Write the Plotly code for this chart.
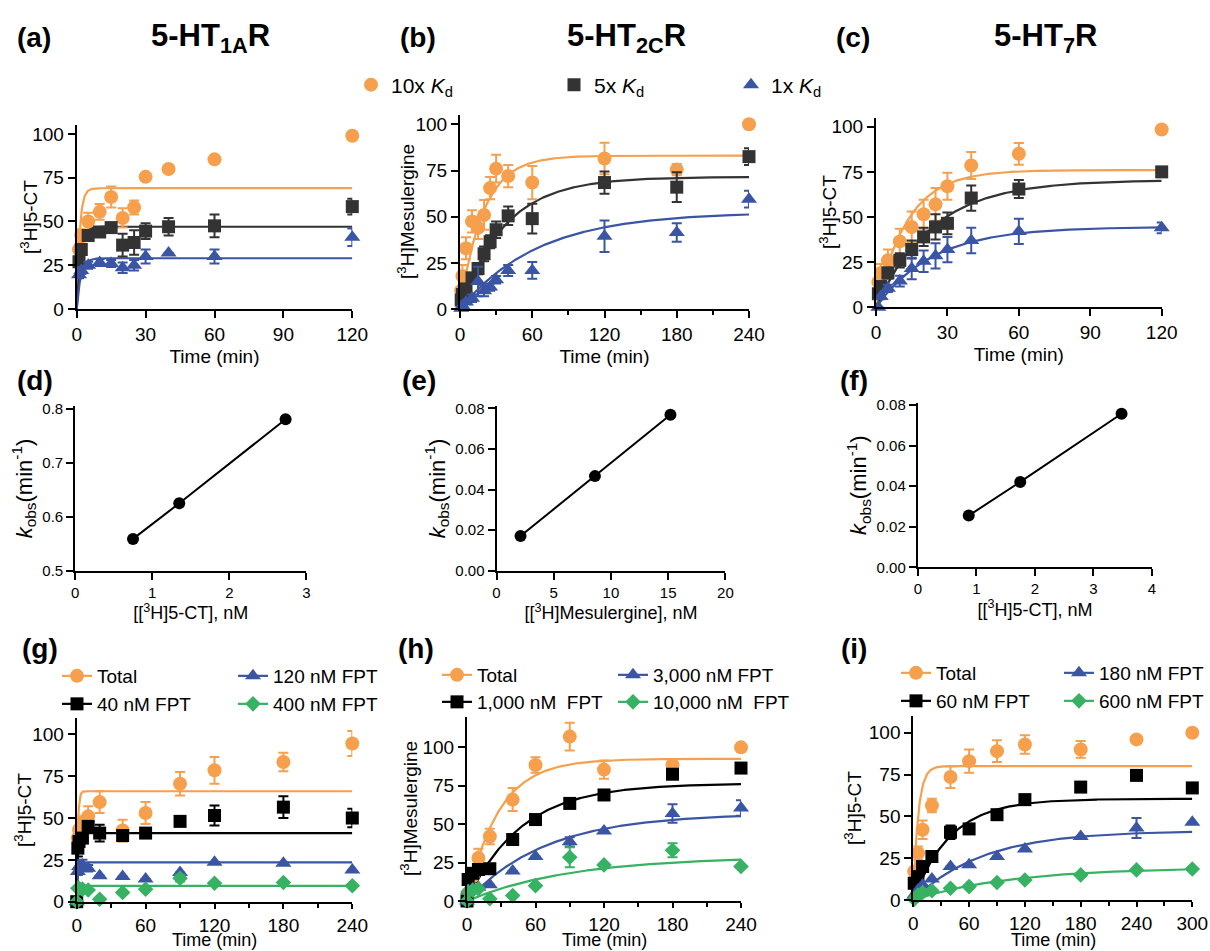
import numpy as np
import plotly.graph_objects as go

W, H = 1210, 951
ORANGE = '#F6A04D'
DARK = '#333333'
BLACK = '#000000'
BLUE = '#3A55A4'
GREEN = '#36B262'
FONT = 'Liberation Sans, Arial, sans-serif'

# ---------------- data ----------------
# (a) 5-HT1AR association, [3H]5-CT
TA = [1, 2, 5, 10, 15, 20, 25, 30, 40, 60, 120]
A_10x = [34, 42, 50, 55.5, 64, 52, 58, 75.5, 80, 85.5, 99]
A_10x_err = [4, 3.5, 5, 4.5, 6, 5.5, 4, 0, 0, 0, 0]
A_5x = [27, 34, 42, 44, 46.5, 36.5, 38, 44.5, 47, 47.5, 58.5]
A_5x_err = [2, 2, 2, 2, 2, 6.5, 7, 4.5, 5, 6.5, 4.5]
A_1x = [19.5, 22, 25, 26.5, 26, 23.5, 25, 30, 32, 30, 41]
A_1x_err = [2, 2, 2, 2, 2, 3, 3, 4, 0, 4, 5]
A_plateau = [69, 47, 29]
A_k = [0.78, 0.625, 0.56]

# (b) 5-HT2CR association, [3H]Mesulergine
TB = [1, 2, 5, 10, 15, 20, 25, 30, 40, 60, 120, 180, 240]
B_10x = [10, 18, 33, 47.5, 44, 51, 65.5, 76, 72, 68.5, 81.5, 75.5, 100]
B_10x_err = [0, 6, 6, 6, 6, 8, 6, 7.5, 6, 9, 8.5, 3, 0]
B_5x = [5, 8, 11, 17, 22, 30, 36.5, 43, 50.5, 49, 68.5, 66, 82.5]
B_5x_err = [0, 0, 0, 2, 3, 4, 3.5, 4.5, 5, 8, 6, 8, 4.5]
B_1x = [0.5, 2, 4, 6, 15, 10, 12, 16, 21, 21, 39.5, 41.5, 59.5]
B_1x_err = [0, 0, 0, 2, 8, 3, 2, 2, 3, 4.5, 8.5, 5, 4.5]
B_plateau = [83, 71.5, 52.5]
B_k = [0.052, 0.027, 0.0155]

# (c) 5-HT7R association, [3H]5-CT
TC = [1, 2, 5, 10, 15, 20, 25, 30, 40, 60, 120]
C_10x = [14, 19, 26, 36.5, 44.5, 51.5, 57, 67, 78.5, 85, 98.5]
C_10x_err = [0, 5, 6, 7, 8.5, 8, 9, 7.5, 7.5, 6, 0]
C_5x = [7.5, 11.5, 19, 26, 32, 39, 44.5, 46.5, 60.5, 65.5, 75]
C_5x_err = [0, 0, 3, 4, 5, 5, 7, 6, 7, 5, 0]
C_1x = [0, 6, 10.5, 14.5, 21.5, 25.5, 28.5, 32, 37, 42, 44]
C_1x_err = [0, 0, 2, 3, 6, 6, 7, 7, 7, 7, 3]
C_plateau = [76, 70.5, 44.5]
C_k = [0.0757, 0.042, 0.042]

# (d)-(f) kobs vs radioligand concentration
D_conc = [0.75, 1.35, 2.73]
D_kobs = [0.559, 0.625, 0.781]
E_conc = [2.1, 8.6, 15.2]
E_kobs = [0.0171, 0.0466, 0.0768]
F_conc = [0.87, 1.75, 3.48]
F_kobs = [0.0255, 0.0421, 0.0757]

# (g) 5-HT1AR with FPT
TG = [0, 1, 2, 5, 10, 20, 40, 60, 90, 120, 180, 240]
G_total = [0, 38, 43, 47, 51, 59.5, 42.5, 53, 70.5, 78.5, 83.5, 94.5]
G_total_err = [0, 5, 4, 4, 6, 6.5, 6.5, 6.5, 7, 8, 5.5, 7.5]
G_40 = [0, 32, 36, 38, 45, 41, 39.5, 41, 48, 51.5, 56.5, 50]
G_40_err = [0, 5, 2, 2, 3, 5, 2, 2, 2, 6, 6.5, 5.5]
G_120 = [0, 18, 21, 22, 20, 15.5, 15, 13.5, 17.5, 23.5, 23, 19]
G_120_err = [0, 2, 3, 3, 2, 0, 0, 0, 0, 0, 0, 0]
G_400 = [0, 8, 8, 7.5, 7, 1.5, 5.5, 7.5, 14, 11, 11.5, 9.5]
G_400_err = [0, 0, 0, 0, 0, 0, 0, 0, 2, 0, 0, 0]
G_plateau = [66, 41, 23.5, 9.5]
G_k = [1.0, 1.2, 1.5, 1.5]

# (h) 5-HT2CR with FPT
TH = [0, 1, 5, 10, 20, 40, 60, 90, 120, 180, 240]
H_total = [0, 5, 16, 28, 42, 66, 88.5, 107, 85.5, 88.5, 100]
H_total_err = [0, 0, 5, 6, 5, 7.5, 5, 9, 6, 0, 0]
H_1000 = [0, 14, 18, 20.5, 21, 40, 53, 63.5, 69, 82.5, 86.5]
H_1000_err = [0, 0, 0, 0, 0, 0, 0, 0, 0, 0, 0]
H_3000 = [0, 7, 8, 9, 10.5, 19.5, 29, 38.5, 45.5, 57, 60.5]
H_3000_err = [0, 0, 0, 0, 0, 0, 0, 3, 0, 6, 5]
H_10000 = [0, 6, 7, 8, 1.5, 3.5, 10, 28.5, 23.5, 33, 22.5]
H_10000_err = [0, 0, 0, 0, 0, 0, 0, 6.5, 0, 4.5, 0]
H_plateau = [92.5, 76.5, 57, 29]
H_k = [0.036, 0.021, 0.0145, 0.011]

# (i) 5-HT7R with FPT
TI = [1, 5, 10, 20, 40, 60, 90, 120, 180, 240, 300]
I_total = [17, 28, 42, 56.5, 73.5, 83, 89, 93, 90, 96, 100]
I_total_err = [0, 4, 5.5, 4, 6.5, 7, 6.5, 5.5, 5, 0, 0]
I_60 = [10, 14, 20, 26, 40.5, 42.5, 51, 60, 67.5, 74.5, 67]
I_60_err = [0, 0, 0, 0, 4, 0, 0, 0, 0, 0, 0]
I_180 = [3, 6, 9, 12.5, 20, 21, 26, 30.5, 38, 43, 46.5]
I_180_err = [0, 0, 0, 0, 0, 0, 0, 0, 0, 6, 0]
I_600 = [0.5, 3, 4.5, 5.5, 7, 8, 10.5, 12, 15, 18, 18.5]
I_600_err = [0] * 11
I_plateau = [80, 60.5, 41.5, 19.5]
I_k = [0.19, 0.025, 0.0135, 0.0095]

TOP_NAMES = ['10x <i>K</i><sub>d</sub>', '5x <i>K</i><sub>d</sub>', '1x <i>K</i><sub>d</sub>']
G_NAMES = ['Total', '40 nM FPT', '120 nM FPT', '400 nM FPT']
H_NAMES = ['Total', '1,000 nM\u00a0 FPT', '3,000 nM FPT', '10,000 nM\u00a0 FPT']
I_NAMES = ['Total', '60 nM FPT', '180 nM FPT', '600 nM FPT']

# ---------------- figure ----------------
fig = go.Figure()


def dx(x0, x1):
    return [x0 / W, x1 / W]


def dy(ytop, ybot):
    return [1 - ybot / H, 1 - ytop / H]


def fit_curve(p, k, tmax):
    t = np.linspace(0, tmax, 500)
    return t, p * (1 - np.exp(-k * t))


def add_kinetic(ax, T, ys, errs, plats, ks, tmax, colors, symbols, sizes,
                names=None, legends=None, legend_only=None):
    n = str(ax) if ax > 1 else ''
    xa, ya = 'x' + n, 'y' + n
    for p, k, c in zip(plats, ks, colors):
        t, f = fit_curve(p, k, tmax)
        fig.add_trace(go.Scatter(x=t, y=f, mode='lines', line=dict(color=c, width=2.2),
                                 xaxis=xa, yaxis=ya, showlegend=False, hoverinfo='skip',
                                 cliponaxis=False))
    for i, (y, e, c, s, sz) in enumerate(zip(ys, errs, colors, symbols, sizes)):
        show = names is not None and legends is not None and not legend_only
        fig.add_trace(go.Scatter(
            x=T, y=y, mode='markers', xaxis=xa, yaxis=ya,
            marker=dict(color=c, symbol=s, size=sz, line=dict(width=0)),
            error_y=dict(type='data', array=e, visible=True, color=c, thickness=2, width=5),
            name=names[i] if names else None,
            showlegend=bool(show), legend=legends[i] if show else None,
            cliponaxis=False))
    if legend_only:
        for i, (c, s, sz) in enumerate(zip(colors, symbols, sizes)):
            fig.add_trace(go.Scatter(
                x=[None], y=[None], mode='lines+markers', xaxis=xa, yaxis=ya,
                line=dict(color=c, width=2.2),
                marker=dict(color=c, symbol=s, size=sz),
                name=names[i], showlegend=True, legend=legends[i]))


TOPC = [ORANGE, DARK, BLUE]
TOPS = ['circle', 'square', 'triangle-up']
TOPZ = [14, 13, 14]

add_kinetic(1, TA, [A_10x, A_5x, A_1x], [A_10x_err, A_5x_err, A_1x_err], A_plateau, A_k, 120,
            TOPC, TOPS, TOPZ, names=TOP_NAMES, legends=['legend', 'legend2', 'legend3'])
add_kinetic(2, TB, [B_10x, B_5x, B_1x], [B_10x_err, B_5x_err, B_1x_err], B_plateau, B_k, 240,
            TOPC, TOPS, TOPZ)
add_kinetic(3, TC, [C_10x, C_5x, C_1x], [C_10x_err, C_5x_err, C_1x_err], C_plateau, C_k, 120,
            TOPC, TOPS, TOPZ)

for ax, xs, ys in [(4, D_conc, D_kobs), (5, E_conc, E_kobs), (6, F_conc, F_kobs)]:
    fig.add_trace(go.Scatter(x=xs, y=ys, mode='lines+markers', xaxis='x%d' % ax, yaxis='y%d' % ax,
                             line=dict(color='black', width=2),
                             marker=dict(color='black', size=12, symbol='circle'),
                             showlegend=False, cliponaxis=False))

BOTC = [ORANGE, BLACK, BLUE, GREEN]
BOTS = ['circle', 'square', 'triangle-up', 'diamond']
BOTZ = [14, 13, 14, 12]
add_kinetic(7, TG, [G_total, G_40, G_120, G_400], [G_total_err, G_40_err, G_120_err, G_400_err],
            G_plateau, G_k, 240, BOTC, BOTS, BOTZ, names=G_NAMES,
            legends=['legend4', 'legend5', 'legend6', 'legend7'], legend_only=True)
add_kinetic(8, TH, [H_total, H_1000, H_3000, H_10000], [H_total_err, H_1000_err, H_3000_err, H_10000_err],
            H_plateau, H_k, 240, BOTC, BOTS, BOTZ, names=H_NAMES,
            legends=['legend8', 'legend9', 'legend10', 'legend11'], legend_only=True)
add_kinetic(9, TI, [I_total, I_60, I_180, I_600], [I_total_err, I_60_err, I_180_err, I_600_err],
            I_plateau, I_k, 300, BOTC, BOTS, BOTZ, names=I_NAMES,
            legends=['legend12', 'legend13', 'legend14', 'legend15'], legend_only=True)

# ---------------- axes ----------------
BIG = 19
MID = 15


def base_axis(fs):
    return dict(showline=True, linecolor='black', linewidth=2, ticks='outside', ticklen=7,
                tickwidth=2, tickcolor='black', showgrid=False, zeroline=False,
                tickfont=dict(size=fs, color='black', family=FONT), fixedrange=True)


def xaxis(ax, dom, rng, tickvals, title, fs, minor=None, ticktext=None, standoff=6, tfs=None,
          ticklen=7):
    d = base_axis(fs)
    d.update(domain=dom, range=rng, tickvals=tickvals, anchor='y' + (str(ax) if ax > 1 else ''),
             ticklen=ticklen)
    if title:
        d['title'] = dict(text=title, font=dict(size=tfs or fs, color='black', family=FONT),
                          standoff=standoff)
    if ticktext:
        d['ticktext'] = ticktext
    if minor:
        d['minor'] = dict(tickvals=minor, ticks='outside', ticklen=4, tickwidth=2, tickcolor='black')
    fig.layout['xaxis' + (str(ax) if ax > 1 else '')] = d


def yaxis(ax, dom, rng, tickvals, title, fs, ticktext=None, standoff=4, tfs=None):
    d = base_axis(fs)
    d.update(domain=dom, range=rng, tickvals=tickvals, anchor='x' + (str(ax) if ax > 1 else ''))
    if title:
        d['title'] = dict(text=title, font=dict(size=tfs or fs, color='black', family=FONT),
                          standoff=standoff)
    if ticktext:
        d['ticktext'] = ticktext
    fig.layout['yaxis' + (str(ax) if ax > 1 else '')] = d


TIME = 'Time (min)'
CT = '[<sup>3</sup>H]5-CT'
MES = '[<sup>3</sup>H]Mesulergine'
KOBS = '<i>k</i><sub>obs</sub>(min<sup>-1</sup>)'
Y100 = [0, 25, 50, 75, 100]

# top row
xaxis(1, dx(76.7, 352.3), [0, 120], [0, 30, 60, 90, 120], TIME, BIG)
yaxis(1, dy(125.2, 309), [0, 105], Y100, None, BIG)
xaxis(2, dx(460, 749), [0, 240], [0, 60, 120, 180, 240], TIME, BIG, minor=[30, 90, 150, 210])
yaxis(2, dy(115, 309.3), [0, 105], Y100, None, BIG)
xaxis(3, dx(876, 1161.7), [0, 120], [0, 30, 60, 90, 120], TIME, BIG)
yaxis(3, dy(117.7, 307.3), [0, 105], Y100, None, BIG)

# middle row
xaxis(4, dx(75.2, 306.4), [0, 3], [0, 1, 2, 3], '[[<sup>3</sup>H]5-CT], nM', MID, standoff=4, tfs=18)
yaxis(4, dy(406.3, 570.7), [0.5, 0.805], [0.5, 0.6, 0.7, 0.8], KOBS, MID,
      ticktext=['0.5', '0.6', '0.7', '0.8'], tfs=22)
xaxis(5, dx(496.5, 725.4), [0, 20], [0, 5, 10, 15, 20], '[[<sup>3</sup>H]Mesulergine], nM', MID,
      standoff=4, tfs=18)
yaxis(5, dy(406.3, 570.7), [0, 0.081], [0, 0.02, 0.04, 0.06, 0.08], KOBS, MID,
      ticktext=['0.00', '0.02', '0.04', '0.06', '0.08'], tfs=22)
xaxis(6, dx(917.8, 1152), [0, 4], [0, 1, 2, 3, 4], '[[<sup>3</sup>H]5-CT], nM', MID, standoff=4, tfs=18)
yaxis(6, dy(403, 567.3), [0, 0.081], [0, 0.02, 0.04, 0.06, 0.08], KOBS, MID,
      ticktext=['0.00', '0.02', '0.04', '0.06', '0.08'], tfs=22)

# bottom row (x titles drawn as annotations below)
xaxis(7, dx(76.7, 352.3), [0, 240], [0, 60, 120, 180, 240], None, BIG, minor=[30, 90, 150, 210],
      ticklen=5)
yaxis(7, dy(717.6, 901.7), [0, 110], Y100, None, BIG)
xaxis(8, dx(467, 741), [0, 240], [0, 60, 120, 180, 240], None, BIG, minor=[30, 90, 150, 210],
      ticklen=5)
yaxis(8, dy(716.6, 901), [0, 120], Y100, None, BIG)
xaxis(9, dx(913.3, 1192.3), [0, 300], [0, 60, 120, 180, 240, 300], None, BIG,
      minor=[30, 90, 150, 210, 270], ticklen=5)
yaxis(9, dy(716, 900), [0, 110], Y100, None, BIG)

# ---------------- legends ----------------
LEG_FS = 19


def leg(mx, my, fs=LEG_FS):
    return dict(x=(mx - 20) / W, y=1 - my / H, xanchor='left', yanchor='middle',
                bgcolor='rgba(0,0,0,0)', borderwidth=0, orientation='v',
                font=dict(size=fs, family=FONT, color='black'), itemclick=False,
                itemdoubleclick=False, tracegroupgap=0)


fig.layout['legend'] = leg(371, 85, 21)
fig.layout['legend2'] = leg(574, 85, 21)
fig.layout['legend3'] = leg(751, 85, 21)
pos = {
    4: (77, 676), 5: (77, 704), 6: (253, 676), 7: (253, 704),
    8: (457, 675), 9: (457, 702), 10: (633, 675), 11: (633, 702),
    12: (916, 673), 13: (916, 701), 14: (1079, 673), 15: (1079, 701),
}
for k, (mx, my) in pos.items():
    fig.layout['legend%d' % k] = leg(mx, my)

# ---------------- annotations ----------------
ann = []


def label(text, x, y, size=28, xanchor='left', angle=0, pad=1):
    ann.append(dict(text=text, x=x / W, y=1 - y / H, xref='paper', yref='paper',
                    xanchor=xanchor, yanchor='middle', showarrow=False, textangle=angle,
                    borderpad=pad, font=dict(size=size, family=FONT, color='black')))


label('<b>(a)</b>', 15, 38)
label('<b>(b)</b>', 398, 38)
label('<b>(c)</b>', 834, 38)
label('<b>5-HT<sub>1A</sub>R</b>', 210, 38, 31, 'center')
label('<b>5-HT<sub>2C</sub>R</b>', 626, 38, 31, 'center')
label('<b>5-HT<sub>7</sub>R</b>', 1045, 38, 31, 'center')
label('<b>(d)</b>', 15, 381)
label('<b>(e)</b>', 400, 381)
label('<b>(f)</b>', 838, 381)
label('<b>(g)</b>', 20, 648)
label('<b>(h)</b>', 396, 648)
label('<b>(i)</b>', 839, 648)

# y-axis titles of the kinetic panels
label(CT, 29, 217, BIG, 'center', -90)
label(MES, 406, 212, BIG, 'center', -90)
label(CT, 828, 212, BIG, 'center', -90)
label(CT, 23, 810, BIG, 'center', -90)
label(MES, 409, 809, BIG, 'center', -90)
label(CT, 853, 808, BIG, 'center', -90)

# x-axis titles of the bottom panels
label(TIME, 214.5, 940, 18, 'center', pad=0)
label(TIME, 604, 940, 18, 'center', pad=0)
label(TIME, 1053, 940, 18, 'center', pad=0)

fig.update_layout(
    width=W, height=H, margin=dict(l=0, r=0, t=0, b=0, autoexpand=False),
    paper_bgcolor='white', plot_bgcolor='white',
    font=dict(family=FONT, color='black'),
    annotations=ann, showlegend=True,
)

fig.write_html('out.html', config={'displayModeBar': False},
               post_script="document.body.style.margin='0';document.body.style.overflow='hidden';")
